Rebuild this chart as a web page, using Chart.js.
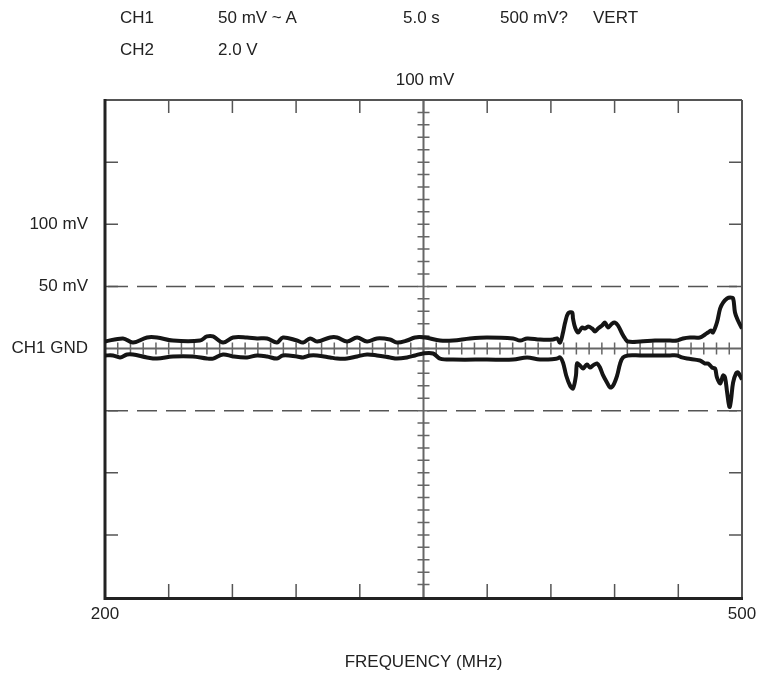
<!DOCTYPE html>
<html>
<head>
<meta charset="utf-8">
<script src="https://cdn.jsdelivr.net/npm/chart.js@4.4.1/dist/chart.umd.min.js"></script>
<style>
  html, body { margin: 0; padding: 0; background: #fff; }
  #wrap { position: relative; width: 760px; height: 680px; }
  canvas { position: absolute; left: 0; top: 0; }
  .t { position: absolute; font-family: "Liberation Sans", Arial, sans-serif; font-size: 17px; color: #222; line-height: 24px; white-space: nowrap; }
</style>
</head>
<body>
<div id="wrap">
  <canvas id="c" width="760" height="680"></canvas>
  <div class="t" style="left:120px; top:6px;">CH1</div>
  <div class="t" style="left:218px; top:6px;">50 mV ~ A</div>
  <div class="t" style="left:403px; top:6px;">5.0 s</div>
  <div class="t" style="left:500px; top:6px;">500 mV?</div>
  <div class="t" style="left:593px; top:6px;">VERT</div>
  <div class="t" style="left:120px; top:38px;">CH2</div>
  <div class="t" style="left:218px; top:38px;">2.0 V</div>
  <div class="t" style="left:325px; width:200px; text-align:center; top:68px;">100 mV</div>
</div>
<script>
// ---- data (frequency in MHz, level in mV) ----
const upperFreq = [200, 208.5, 213.2, 219.8, 224.5, 232.0, 244.7, 248.0, 250.9, 255.6, 260.3, 266.9, 271.6, 276.3, 281.0, 283.8, 290.4, 293.3, 296.6, 299.9, 306.0, 309.3, 314.0, 318.7, 323.4, 328.1, 334.2, 337.5, 342.2, 346.0, 350.7,
  357.8, 363.9, 371.9, 379.9, 392.2, 395.5, 398.8, 404.9, 411.0, 412.9, 414.3, 415.7, 416.7, 418.1, 420.0, 420.4, 421.4, 422.8, 424.7, 426.1, 427.5, 429.4, 430.8, 432.2, 434.1, 435.5, 436.9, 438.8, 440.2, 441.6, 443.5, 444.9, 446.3,
  452.0, 459.0, 466.1, 469.4, 472.2, 475.5, 480.2, 482.6, 484.0, 485.4, 486.3, 488.2, 489.7, 491.1, 493.0, 494.4, 495.8, 496.7, 498.1, 500.0];
const upperMv = [5.6, 8.1, 4.8, 8.9, 8.9, 6.4, 6.4, 9.7, 9.7, 4.8, 8.9, 8.9, 8.1, 8.1, 4.8, 8.9, 6.4, 4.8, 8.1, 5.6, 8.9, 8.9, 5.6, 8.9, 5.6, 8.1, 7.2, 4.8, 6.4, 8.9, 8.9,
  6.4, 6.4, 8.1, 8.9, 8.1, 6.4, 8.1, 7.2, 7.2, 8.1, 4.8, 12.9, 20.9, 28.2, 29.0, 24.2, 16.9, 12.9, 16.9, 16.1, 17.7, 16.1, 13.7, 16.1, 18.5, 20.9, 16.9, 20.1, 20.9, 18.5, 12.1, 8.1, 5.6,
  5.6, 6.4, 6.4, 6.4, 8.1, 8.9, 8.9, 11.3, 12.9, 14.5, 12.9, 20.9, 32.2, 37.0, 40.3, 41.1, 40.3, 29.0, 22.5, 16.1];

const lowerFreq = [200, 203.8, 207.1, 210.4, 213.2, 219.8, 224.5, 232.0, 241.4, 248.0, 250.9, 255.6, 260.3, 266.9, 271.6, 276.3, 281.0, 283.8, 290.4, 293.3, 296.6, 299.9, 306.0, 309.3, 314.0, 318.7, 323.4, 328.1, 334.2, 337.5, 342.2, 346.0, 349.8, 354.5,
  357.8, 363.9, 379.9, 392.2, 398.8, 404.9, 412.9, 414.3, 415.7, 417.2, 419.0, 420.4, 421.8, 422.3, 423.7, 425.1, 427.0, 428.4, 429.8, 431.7, 433.1, 434.6, 436.4, 437.9, 439.3, 441.2, 442.6, 444.0, 446.3,
  452.0, 466.1, 469.4, 471.7, 474.1, 480.2, 482.6, 484.0, 485.9, 487.3, 488.2, 489.7, 491.1, 492.0, 493.0, 494.1, 494.8, 495.8, 497.2, 498.1, 500.0];
const lowerMv = [-5.6, -5.6, -7.2, -4.8, -4.8, -7.2, -8.1, -6.4, -6.4, -8.1, -8.1, -4.8, -6.4, -7.2, -5.6, -6.4, -8.1, -5.6, -6.4, -7.2, -5.6, -5.6, -7.2, -8.1, -8.1, -6.4, -4.8, -5.6, -7.2, -8.1, -7.2, -5.6, -4.0, -4.0,
  -8.1, -8.9, -8.9, -8.9, -7.2, -8.9, -8.1, -7.2, -11.3, -21.7, -29.8, -32.2, -21.7, -12.1, -13.7, -16.1, -12.9, -15.3, -13.7, -12.1, -15.3, -21.7, -27.4, -31.4, -29.8, -21.7, -12.1, -7.2, -5.6,
  -5.6, -5.6, -5.6, -7.2, -8.1, -9.7, -12.1, -12.1, -15.3, -16.1, -23.3, -28.2, -21.7, -23.3, -35.4, -47.0, -41.9, -27.4, -20.1, -19.3, -25.0];

const xMin = 200, xMax = 500, xDivs = 10;
const yMin = -200, yMax = 200, yStep = 50;
const yLabels = { "100": "100 mV", "50": "50 mV", "0": "CH1 GND" };
const xTickValues = [200, 500];
const xTitle = "FREQUENCY (MHz)";

const FONT = '"Liberation Sans", Arial, sans-serif';

const toPts = (xs, ys) => xs.map((x, i) => ({ x: x, y: ys[i] }));

const scopeGrid = {
  id: 'scopeGrid',
  beforeDatasetsDraw(chart) {
    const { ctx, chartArea: a, scales: { x, y } } = chart;
    const xDiv = (xMax - xMin) / xDivs;
    const xc = x.getPixelForValue((xMin + xMax) / 2);
    const yc = y.getPixelForValue(0);
    ctx.save();
    ctx.lineCap = 'butt';
    ctx.strokeStyle = '#555';
    ctx.lineWidth = 1.5;
    ctx.setLineDash([20, 9]);
    [50, -50].forEach(v => {
      const py = y.getPixelForValue(v);
      ctx.beginPath(); ctx.moveTo(a.left + 3, py); ctx.lineTo(a.right, py); ctx.stroke();
    });
    ctx.setLineDash([]);
    ctx.strokeStyle = '#555';
    ctx.lineWidth = 1.5;
    for (let k = 1; k < xDivs; k++) {
      const px = x.getPixelForValue(xMin + k * xDiv);
      ctx.beginPath();
      ctx.moveTo(px, a.top); ctx.lineTo(px, a.top + 13);
      ctx.moveTo(px, a.bottom); ctx.lineTo(px, a.bottom - 13);
      ctx.stroke();
    }
    for (let v = yMin + yStep; v < yMax; v += yStep) {
      if (v === 0) continue;
      const py = y.getPixelForValue(v);
      ctx.beginPath();
      ctx.moveTo(a.left, py); ctx.lineTo(a.left + 13, py);
      ctx.moveTo(a.right, py); ctx.lineTo(a.right - 13, py);
      ctx.stroke();
    }
    ctx.strokeStyle = '#666';
    ctx.lineWidth = 2;
    ctx.beginPath();
    ctx.moveTo(xc, a.top); ctx.lineTo(xc, a.bottom);
    ctx.moveTo(a.left, yc); ctx.lineTo(a.right, yc);
    ctx.stroke();
    ctx.lineWidth = 1.5;
    ctx.beginPath();
    for (let v = yMin + yStep / 5; v < yMax; v += yStep / 5) {
      const py = y.getPixelForValue(v);
      ctx.moveTo(xc - 6, py); ctx.lineTo(xc + 6, py);
    }
    for (let f = xMin + xDiv / 5; f < xMax - 0.01; f += xDiv / 5) {
      const px = x.getPixelForValue(f);
      ctx.moveTo(px, yc - 6); ctx.lineTo(px, yc + 6);
    }
    ctx.stroke();
    ctx.strokeStyle = '#555';
    ctx.lineWidth = 2;
    ctx.beginPath();
    ctx.moveTo(a.left, a.top); ctx.lineTo(a.right, a.top);
    ctx.moveTo(a.right, a.top); ctx.lineTo(a.right, a.bottom);
    ctx.stroke();
    ctx.strokeStyle = '#222';
    ctx.lineWidth = 3;
    ctx.beginPath();
    ctx.moveTo(a.left, a.top - 1); ctx.lineTo(a.left, a.bottom + 1.5);
    ctx.lineTo(a.right + 1, a.bottom + 1.5);
    ctx.stroke();
    ctx.restore();
  }
};

new Chart(document.getElementById('c'), {
  type: 'line',
  data: {
    datasets: [
      { label: 'upper', data: toPts(upperFreq, upperMv), borderColor: '#151515', borderWidth: 4, pointRadius: 0, tension: 0.35, fill: false },
      { label: 'lower', data: toPts(lowerFreq, lowerMv), borderColor: '#151515', borderWidth: 4, pointRadius: 0, tension: 0.35, fill: false }
    ]
  },
  options: {
    responsive: false,
    animation: false,
    events: [],
    layout: { padding: { top: 100, right: 18, left: 0, bottom: 0 } },
    plugins: { legend: { display: false }, tooltip: { enabled: false } },
    scales: {
      x: {
        type: 'linear', min: xMin, max: xMax,
        grid: { display: false, drawTicks: false },
        border: { display: false },
        afterBuildTicks: s => { s.ticks = xTickValues.map(v => ({ value: v })); },
        afterFit: s => { s.height = 83; s.paddingRight = 0; s.paddingLeft = 0; },
        ticks: { padding: 7, maxRotation: 0, autoSkip: false, color: '#222', font: { family: FONT, size: 17 } },
        title: { display: true, text: xTitle, color: '#222', font: { family: FONT, size: 17 }, padding: { top: 0, bottom: 7 } }
      },
      y: {
        type: 'linear', min: yMin, max: yMax,
        grid: { display: false, drawTicks: false },
        border: { display: false },
        afterBuildTicks: s => { s.ticks = Object.keys(yLabels).map(v => ({ value: Number(v) })); },
        afterFit: s => { s.width = 105; },
        ticks: { padding: 17, autoSkip: false, color: '#222', font: { family: FONT, size: 17 },
          callback: v => yLabels[String(v)] || '' }
      }
    }
  },
  plugins: [scopeGrid]
});
</script>
</body>
</html>
